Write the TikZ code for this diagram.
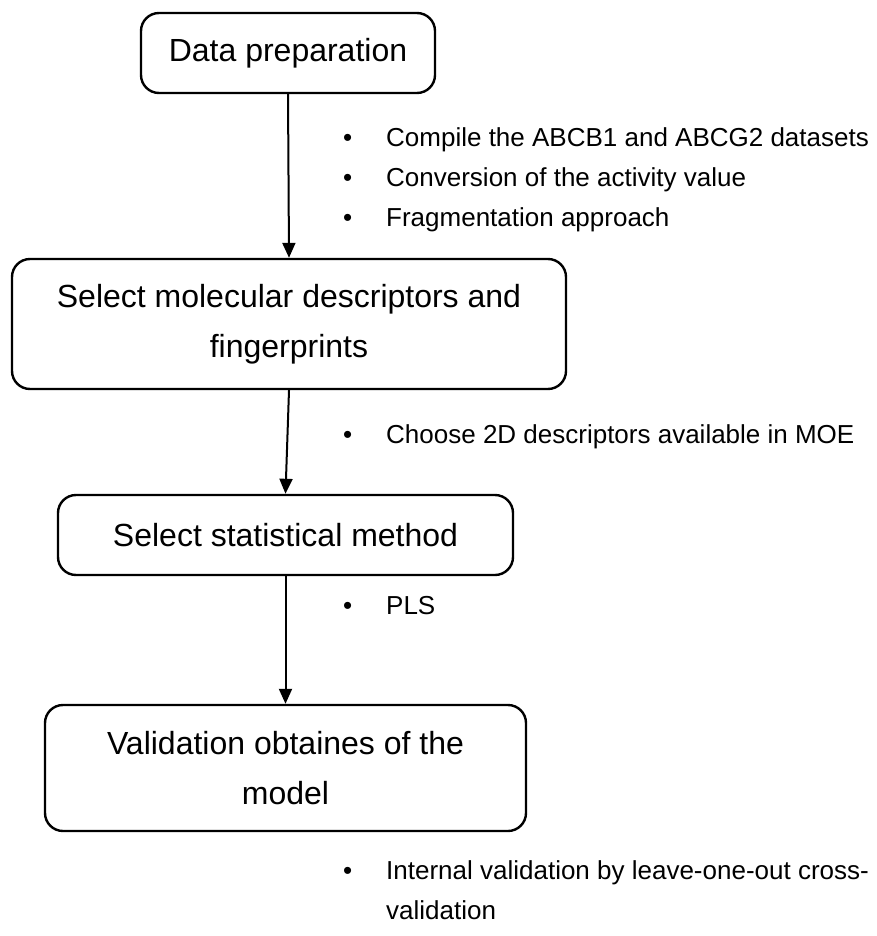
\documentclass[tikz,border=0pt]{standalone}
\usepackage{fontspec}
\setmainfont{Liberation Sans}
\usetikzlibrary{arrows.meta,positioning}
\tikzset{
    stage/.style={
        rectangle,
        rounded corners=18pt,
        draw=black, line width=2.4pt,
        align=center,
        inner sep=0pt,
        font={\fontsize{32pt}{50pt}\selectfont}
    },
    flow/.style={draw, line width=2pt, -{Triangle[length=15pt,width=13pt]}},
    point/.style={
        anchor=west,
        inner sep=0pt,
        align=left,
        font={\fontsize{26pt}{40pt}\selectfont}
    },
}
\newcommand{\bitem}{\makebox[43pt][l]{\textbullet}}

\begin{document}
\begin{tikzpicture}[x=1pt,y=-1pt]
    \useasboundingbox (0,0) rectangle (877,936);

    % stages
    \node [stage, minimum width=294pt, minimum height=80pt] (prep) at (288, 53) {Data preparation};
    \node [stage, minimum width=554pt, minimum height=130pt] (select) at (289, 324)
        {Select molecular descriptors and\\fingerprints};
    \node [stage, minimum width=455pt, minimum height=80pt] (stat) at (285.5, 535) {Select statistical method};
    \node [stage, minimum width=481pt, minimum height=126pt] (valid) at (285.5, 768)
        {Validation obtaines of the\\model};

    % connectors
    \draw [flow] (prep.south) -- (select.north);
    \draw [flow] (select.south) -- (stat.north);
    \draw [flow] (stat.south) -- (valid.north);

    % notes
    \node [point] (compile) at (343, 140) {\bitem Compile the ABCB1 and ABCG2 datasets};
    \node [point] (convert) at (343, 180) {\bitem Conversion of the activity value};
    \node [point] (fragm) at (343, 220) {\bitem Fragmentation approach};
    \node [point] (choose) at (343, 437) {\bitem Choose 2D descriptors available in MOE};
    \node [point] (pls) at (343, 606) {\bitem PLS};
    \node [point] (loo) at (343, 890)
        {\bitem Internal validation by leave-one-out cross-\\\hspace*{43pt}validation};
\end{tikzpicture}
\end{document}
